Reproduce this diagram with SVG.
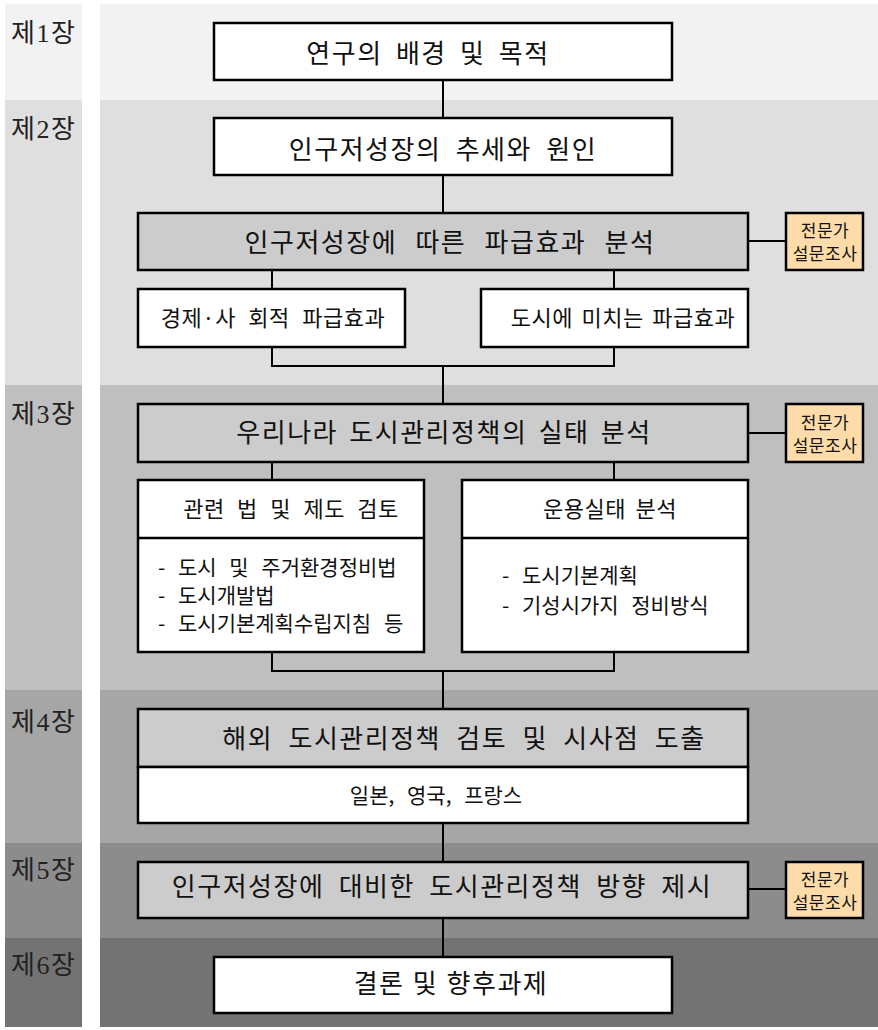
<svg xmlns="http://www.w3.org/2000/svg" width="878" height="1030" viewBox="0 0 878 1030">
<style>
text{font-family:"Noto Sans CJK KR","Noto Sans",sans-serif;fill:#111}
.lbl{font-family:"Liberation Serif","Noto Sans CJK KR",serif;font-size:26px;letter-spacing:1.5px;fill:#222}
.box{stroke:#000;stroke-width:2.5}
.w{fill:#fff}
.g{fill:#cccccc}
.o{fill:#fddcaa}
.t{font-size:26px;letter-spacing:1.5px;text-anchor:middle}
.s{font-size:22px;letter-spacing:0.5px;text-anchor:middle}
.l{font-size:21px;word-spacing:8px}
.e{font-size:17px;text-anchor:middle;letter-spacing:0.5px}
.c{stroke:#000;stroke-width:2;fill:none}
</style>
<g id="bands">
<rect x="5" y="4" width="77" height="96" fill="#f2f2f2"/>
<rect x="100" y="4" width="778" height="96" fill="#f2f2f2"/>
<rect x="5" y="100" width="77" height="285" fill="#dfdfdf"/>
<rect x="100" y="100" width="778" height="285" fill="#dfdfdf"/>
<rect x="5" y="385" width="77" height="305" fill="#bfbfbf"/>
<rect x="100" y="385" width="778" height="305" fill="#bfbfbf"/>
<rect x="5" y="690" width="77" height="153" fill="#a6a6a6"/>
<rect x="100" y="690" width="778" height="153" fill="#a6a6a6"/>
<rect x="5" y="843" width="77" height="95" fill="#8c8c8c"/>
<rect x="100" y="843" width="778" height="95" fill="#8c8c8c"/>
<rect x="5" y="938" width="77" height="89" fill="#737373"/>
<rect x="100" y="938" width="778" height="89" fill="#737373"/>
<text class="lbl" x="11" y="42">제1장</text>
<text class="lbl" x="11" y="138">제2장</text>
<text class="lbl" x="11" y="423">제3장</text>
<text class="lbl" x="11" y="731">제4장</text>
<text class="lbl" x="11" y="879">제5장</text>
<text class="lbl" x="11" y="974">제6장</text>
</g>
<g id="connectors">
<path class="c" d="M443 80V118M443 175V213M272 270V289M614 270V289M272 347V366H614V347M443 366V404M272 462V480M614 462V480M272 652V671H614V652M443 671V709M443 823V862M443 918V957M748 241H786M748 433H786M748 889H786"/>
</g>
<g id="n1"><rect class="box w" x="214" y="23" width="458" height="57"/><text class="t" x="428" y="63" word-spacing="6">연구의 배경 및 목적</text></g>
<g id="n2"><rect class="box w" x="214" y="118" width="458" height="57"/><text class="t" x="443" y="159" word-spacing="7">인구저성장의 추세와 원인</text></g>
<g id="n3"><rect class="box g" x="138" y="213" width="610" height="57"/><text class="t" x="450" y="252" word-spacing="11">인구저성장에 따른 파급효과 분석</text></g>
<g id="n3e"><rect class="box o" x="786" y="213" width="77" height="57"/><text class="e" x="825" y="237">전문가</text><text class="e" x="825" y="260">설문조사</text></g>
<g id="n4"><rect class="box w" x="138" y="289" width="267" height="58"/><text class="s" x="273" y="326" word-spacing="7">경제·사 회적 파급효과</text></g>
<g id="n5"><rect class="box w" x="481" y="289" width="267" height="58"/><text class="s" x="623" y="326" word-spacing="3">도시에 미치는 파급효과</text></g>
<g id="n6"><rect class="box g" x="138" y="404" width="610" height="58"/><text class="t" x="444" y="442" word-spacing="4">우리나라 도시관리정책의 실태 분석</text></g>
<g id="n6e"><rect class="box o" x="786" y="404" width="77" height="58"/><text class="e" x="825" y="429">전문가</text><text class="e" x="825" y="452">설문조사</text></g>
<g id="n7"><rect class="box w" x="138" y="480" width="286" height="172"/><line class="box" x1="138" y1="538" x2="424" y2="538"/>
<text class="s" x="291" y="517" word-spacing="7">관련 법 및 제도 검토</text>
<text class="l" x="158" y="575">- 도시 및 주거환경정비법</text>
<text class="l" x="158" y="603">- 도시개발법</text>
<text class="l" x="158" y="631">- 도시기본계획수립지침 등</text></g>
<g id="n8"><rect class="box w" x="462" y="480" width="286" height="172"/><line class="box" x1="462" y1="538" x2="748" y2="538"/>
<text class="s" x="610" y="517" word-spacing="4">운용실태 분석</text>
<text class="l" x="502" y="583">- 도시기본계획</text>
<text class="l" x="502" y="613">- 기성시가지 정비방식</text></g>
<g id="n9"><rect class="box g" x="138" y="709" width="610" height="58"/><rect class="box w" x="138" y="767" width="610" height="56"/>
<text class="t" x="464" y="748" word-spacing="8">해외 도시관리정책 검토 및 시사점 도출</text>
<text class="l" x="436" y="803" text-anchor="middle" word-spacing="9">일본, 영국, 프랑스</text></g>
<g id="n10"><rect class="box g" x="138" y="862" width="610" height="56"/><text class="t" x="442" y="896" word-spacing="7">인구저성장에 대비한 도시관리정책 방향 제시</text></g>
<g id="n10e"><rect class="box o" x="786" y="862" width="77" height="56"/><text class="e" x="825" y="886">전문가</text><text class="e" x="825" y="909">설문조사</text></g>
<g id="n11"><rect class="box w" x="214" y="957" width="458" height="56"/><text class="t" x="451" y="993" word-spacing="1">결론 및 향후과제</text></g>
</svg>
